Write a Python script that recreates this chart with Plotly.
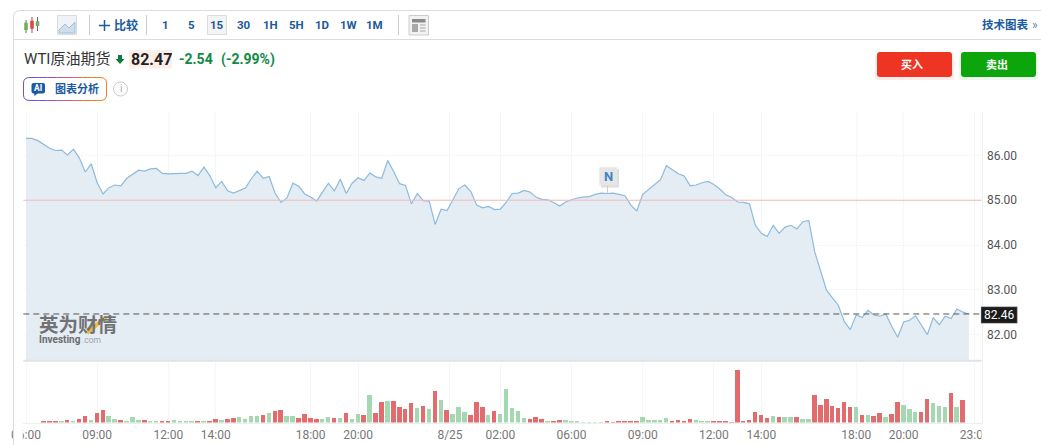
import plotly.graph_objects as go

# Page size and helpers to place the page furniture in pixels
W, H = 1041, 445

prices = [
    86.38, 86.38, 86.33, 86.25, 86.16, 86.11, 86.12, 86.01, 86.14, 85.94,
    85.63, 85.81, 85.39, 85.14, 85.28, 85.34, 85.32, 85.49, 85.59, 85.67,
    85.65, 85.70, 85.71, 85.60, 85.59, 85.60, 85.60, 85.60, 85.65, 85.55,
    85.74, 85.55, 85.28, 85.42, 85.21, 85.16, 85.21, 85.27, 85.48, 85.65,
    85.49, 85.53, 85.16, 84.95, 85.05, 85.38, 85.31, 85.14, 85.07, 84.98,
    85.18, 85.38, 85.21, 85.47, 85.15, 85.38, 85.50, 85.44, 85.61, 85.52,
    85.49, 85.89, 85.64, 85.37, 85.33, 84.92, 85.15, 84.99, 84.98, 84.46,
    84.80, 84.77, 85.01, 85.26, 85.34, 85.20, 84.89, 84.83, 84.86, 84.79,
    84.80, 84.96, 85.15, 85.16, 85.22, 85.18, 85.07, 85.02, 85.01, 84.95,
    84.87, 84.96, 85.01, 85.05, 85.07, 85.08, 85.13, 85.16, 85.15, 85.16,
    85.13, 85.10, 84.89, 84.76, 85.13, 85.24, 85.37, 85.46, 85.77, 85.68,
    85.59, 85.54, 85.32, 85.34, 85.39, 85.42, 85.35, 85.25, 85.12, 85.06,
    84.96, 84.95, 84.92, 84.44, 84.26, 84.19, 84.44, 84.26, 84.40, 84.44,
    84.36, 84.52, 84.55, 83.85, 83.41, 82.99, 82.82, 82.65, 82.29, 82.11,
    82.44, 82.38, 82.54, 82.44, 82.41, 82.46, 82.18, 81.94, 82.28, 82.32,
    82.42, 82.20, 82.00, 82.38, 82.22, 82.41, 82.36, 82.57, 82.50, 82.46,
]

volumes = [
    0, 0, 0, 2, 4, 3, 2, 8, 5, 10,
    18, 8, 28, 38, 18, 10, 8, 5, 15, 8,
    6, 2, 3, 3, 3, 8, 2, 2, 4, 5,
    4, 4, 11, 8, 10, 13, 16, 10, 20, 19,
    22, 27, 33, 38, 19, 19, 13, 24, 13, 10,
    10, 16, 13, 13, 27, 9, 24, 21, 83, 27,
    60, 63, 63, 46, 40, 58, 43, 49, 40, 94,
    68, 38, 26, 46, 32, 21, 60, 46, 21, 35,
    26, 99, 43, 35, 12, 9, 15, 9, 5, 5,
    7, 6, 4, 2, 1, 1, 1, 1, 3, 1,
    5, 4, 4, 5, 15, 7, 7, 7, 12, 5,
    7, 5, 9, 6, 3, 2, 3, 5, 3, 1,
    157, 4, 7, 30, 21, 12, 18, 16, 16, 16,
    16, 10, 10, 81, 52, 69, 49, 43, 60, 46,
    47, 21, 21, 18, 27, 16, 24, 60, 52, 41,
    30, 30, 69, 58, 49, 47, 89, 47, 66, 0,
]
# r = down bar, g = up bar, ten per row
vol_dirs = (
    "gggrrrgrgr"
    "rgrrggrggg"
    "rggrrggggr"
    "grrgrrgggg"
    "rgrrggrrrr"
    "ggrgrggrgr"
    "rgrrrrgrgr"
    "grgggrrrgr"
    "gggggrrrgr"
    "rgggggggrr"
    "rrrrgggggr"
    "rrrgggrrrr"
    "rrrrrrgrgg"
    "rggrrrrrrr"
    "grgrrgrrgg"
    "grrgggrgrr"
)

tick_pos = [0, 12, 24, 32, 48, 56, 71.5, 80, 92, 104, 116, 124, 140, 148, 160]
tick_text = ["06:00", "09:00", "12:00", "14:00", "18:00", "20:00", "8/25", "02:00",
             "06:00", "09:00", "12:00", "14:00", "18:00", "20:00", "23:00"]
price_ticks = [82, 83, 84, 85, 86]
prev_close = 85.0
last_price = 82.46

UI_FONT = "Roboto, 'Noto Sans CJK SC', sans-serif"
BLUE = "#1a5a9e"
GRID = "#f5f6f7"


def fx(x):
    return x / W


def fy(y):
    return 1 - y / H


shapes = []
notes = []


def rect(x0, y0, x1, y1, fill=None, line=None, width=1):
    shapes.append(dict(type="rect", xref="paper", yref="paper", layer="above",
                       x0=fx(x0), x1=fx(x1), y0=fy(y0), y1=fy(y1), fillcolor=fill,
                       line=dict(color=line, width=width if line else 0)))


def round_rect(x0, y0, x1, y1, r, fill):
    p = (f"M {fx(x0 + r)} {fy(y0)} L {fx(x1 - r)} {fy(y0)} Q {fx(x1)} {fy(y0)} {fx(x1)} {fy(y0 + r)} "
         f"L {fx(x1)} {fy(y1 - r)} Q {fx(x1)} {fy(y1)} {fx(x1 - r)} {fy(y1)} "
         f"L {fx(x0 + r)} {fy(y1)} Q {fx(x0)} {fy(y1)} {fx(x0)} {fy(y1 - r)} "
         f"L {fx(x0)} {fy(y0 + r)} Q {fx(x0)} {fy(y0)} {fx(x0 + r)} {fy(y0)} Z")
    shapes.append(dict(type="path", xref="paper", yref="paper", layer="above", path=p,
                       fillcolor=fill, line=dict(width=0)))


def seg(x0, y0, x1, y1, color, width=1, dash=None):
    shapes.append(dict(type="line", xref="paper", yref="paper", layer="above",
                       x0=fx(x0), x1=fx(x1), y0=fy(y0), y1=fy(y1),
                       line=dict(color=color, width=width, dash=dash)))


def label(x, y, text, size=12, color="#333", anchor="center", bold=False, font=UI_FONT, bg=None):
    notes.append(dict(xref="paper", yref="paper", x=fx(x), y=fy(y), text=f"<b>{text}</b>" if bold else text,
                      showarrow=False, xanchor=anchor, yanchor="middle", borderpad=0, bgcolor=bg,
                      font=dict(size=size, color=color, family=font)))


fig = go.Figure()
xs = list(range(len(prices)))

# price area
fig.add_trace(go.Scatter(x=xs, y=prices, mode="lines", fill="tozeroy", fillcolor="#e4ecf4",
                         line=dict(color="#8dbadd", width=1.2), hoverinfo="skip", showlegend=False))
# volume bars
bar_colors = ["#e26b6e" if d == "r" else "#a5d7b1" for d in vol_dirs]
fig.add_trace(go.Bar(x=xs, y=volumes, marker=dict(color=bar_colors, line=dict(width=0)), width=0.76,
                     xaxis="x2", yaxis="y2", hoverinfo="skip", showlegend=False))

# clip the tick labels at the chart edges like the original
rect(14, 424, 22.7, 445, fill="white")
rect(981.5, 424, 1041, 445, fill="white")

# reference lines on the price axis
shapes.append(dict(type="line", xref="x domain", yref="y", x0=0, x1=1, y0=prev_close, y1=prev_close,
                   layer="above", line=dict(color="#f6b9bc", width=1)))
shapes.append(dict(type="line", xref="x domain", yref="y", x0=0, x1=1, y0=last_price, y1=last_price,
                   layer="above", line=dict(color="#555", width=1, dash="6px,4px")))
seg(23.3, 360.7, 981.5, 360.7, "#dfe3e6", 2)

# last price flag
rect(981, 306.7, 1017.3, 323.3, fill="#1b1b1b", line="#bbb", width=0.5)
label(999, 315.2, f"{last_price:.2f}", 12, "white")

# news marker
rect(601, 169, 619, 187.5, fill="rgba(0,0,0,0.13)")
seg(607.5, 185, 607.5, 193, "#ccc")
rect(599.3, 167.3, 617.3, 185.3, fill="#e6e6e6")
label(608, 176.5, "N", 13, "#3d85c6", bold=True)

# watermark
seg(87, 333, 106, 317, "#f3bb3c", 4)
label(38, 323, "英为财情", 19.5, "#707274", "left", True, "'Noto Sans CJK SC'")
label(38, 339.5, "Investing", 10, "#6b6d6f", "left", True)
label(81, 340, ".com", 8.5, "#a0a4a8", "left")

# frame and toolbar
seg(20, 10.5, W, 10.5, "#dcdcdc")
seg(13.5, 39.5, W, 39.5, "#dcdcdc")
seg(13.5, 17, 13.5, H, "#dcdcdc")
shapes.append(dict(type="path", xref="paper", yref="paper", layer="above",
                   path=f"M {fx(13.5)} {fy(17)} Q {fx(13.5)} {fy(10.5)} {fx(20)} {fy(10.5)}",
                   line=dict(color="#dcdcdc", width=1)))

# candle icon
for cx, w0, w1, b0, b1, col in [(26, 20, 33, 22.7, 30, "#6cb25c"), (32, 17, 33, 20.7, 28.7, "#e0483e"),
                                (37.5, 17, 31, 21.3, 26, "#6cb25c")]:
    seg(cx, w0, cx, w1, "#666")
    rect(cx - 1.8, b0, cx + 1.8, b1, fill=col)

# line icon
rect(57.5, 15.5, 76.5, 34.5, fill="#f0f2f5", line="#dcdcdc")
shapes.append(dict(type="path", xref="paper", yref="paper", layer="above", fillcolor="#cfdeed",
                   line=dict(color="#9dbfdc", width=1),
                   path=f"M {fx(59)} {fy(30)} L {fx(65)} {fy(24)} L {fx(69)} {fy(28)} L {fx(75)} {fy(22)} "
                        f"L {fx(75)} {fy(33)} L {fx(59)} {fy(33)} Z"))

seg(89.5, 15, 89.5, 35, "#ccc")
seg(99, 25.5, 110, 25.5, BLUE, 1.5)
seg(104.5, 20, 104.5, 31, BLUE, 1.5)
label(126, 25, "比较", 12, BLUE, bold=True)
seg(146.5, 15, 146.5, 35, "#ccc")
rect(207.5, 15.5, 226.5, 34.5, fill="#f4f4f4", line="#dcdcdc")
for tx, t in [(165, "1"), (191, "5"), (217, "15"), (243.5, "30"), (270, "1H"), (296.5, "5H"),
              (322, "1D"), (348, "1W"), (374.5, "1M")]:
    label(tx, 25.5, t, 11.5, BLUE, bold=True)
seg(398.5, 15, 398.5, 35, "#ccc")

# layout icon
rect(409, 15.5, 428.5, 35, fill="#f2f2f2", line="#ccc")
rect(412, 19, 425.5, 22.5, fill="#8a8a8a")
rect(412, 24, 418, 32, fill="#a8a8a8")
for ly in (25, 28, 31):
    seg(420, ly, 425.5, ly, "#aaa")

label(1005.5, 25, "技术图表", 11.5, BLUE, bold=True)
label(1035, 25, "»", 12, "#5a86b8")

# title row
label(23, 59.5, "WTI原油期货", 15, "#333", "left")
shapes.append(dict(type="path", xref="paper", yref="paper", layer="above", fillcolor="#0e7a3c", line=dict(width=0),
                   path=f"M {fx(118)} {fy(55)} L {fx(122)} {fy(55)} L {fx(122)} {fy(59)} L {fx(124.5)} {fy(59)} "
                        f"L {fx(120)} {fy(64)} L {fx(115.5)} {fy(59)} L {fx(118)} {fy(59)} Z"))
rect(129, 50, 172, 68.5, fill="#fdeee9")
label(129.5, 59.5, "82.47", 16, "#222", "left", True)
label(178, 59.5, "-2.54", 14, "#0e8a45", "left", True)
label(219.5, 59.5, "(-2.99%)", 14, "#0e8a45", "left", True)

# buy and sell buttons
round_rect(875, 55, 954, 80, 3, "rgba(238,53,36,0.10)")
round_rect(959, 55, 1038, 80, 3, "rgba(12,166,12,0.08)")
round_rect(877, 52, 952, 77, 3, "#ee3524")
round_rect(961, 52, 1036, 77, 3, "#0ca60c")
label(912, 65, "买入", 11, "white", bold=True)
label(997, 65, "卖出", 11, "white", bold=True)

# AI button, border fades from purple to orange
border = ["#6b4fe6", "#7d4fd8", "#9a50c0", "#b755a0", "#d05f78", "#e26a50", "#ec7530", "#f08020"]
step = (100 - 30) / len(border)
for k, c in enumerate(border):
    seg(30 + k * step, 77.5, 30 + (k + 1) * step, 77.5, c)
    seg(30 + k * step, 100.5, 30 + (k + 1) * step, 100.5, c)
for path_str, c in [
    (f"M {fx(30)} {fy(77.5)} Q {fx(23.5)} {fy(77.5)} {fx(23.5)} {fy(83)} L {fx(23.5)} {fy(95)} "
     f"Q {fx(23.5)} {fy(100.5)} {fx(30)} {fy(100.5)}", border[0]),
    (f"M {fx(100)} {fy(77.5)} Q {fx(106.5)} {fy(77.5)} {fx(106.5)} {fy(83)} L {fx(106.5)} {fy(95)} "
     f"Q {fx(106.5)} {fy(100.5)} {fx(100)} {fy(100.5)}", border[-1]),
]:
    shapes.append(dict(type="path", xref="paper", yref="paper", layer="above", path=path_str,
                       line=dict(color=c, width=1)))
round_rect(31.5, 83, 45, 93.5, 2, "#1b5aa6")
shapes.append(dict(type="path", xref="paper", yref="paper", layer="above", fillcolor="#1b5aa6", line=dict(width=0),
                   path=f"M {fx(34)} {fy(93)} L {fx(38)} {fy(93)} L {fx(34.5)} {fy(96)} Z"))
label(38.2, 88.3, "AI", 8.5, "white", bold=True)
label(76.5, 89, "图表分析", 11, BLUE, bold=True)
shapes.append(dict(type="circle", xref="paper", yref="paper", layer="above", x0=fx(113.5), x1=fx(127.5),
                   y0=fy(82), y1=fy(96), line=dict(color="#c8c8c8", width=1)))
label(120.5, 89, "i", 10, "#aaa")

fig.update_layout(
    width=W, height=H,
    margin=dict(l=0, r=0, t=0, b=0),
    paper_bgcolor="white", plot_bgcolor="white",
    font=dict(family=UI_FONT),
    bargap=0,
    shapes=shapes, annotations=notes,
    xaxis=dict(domain=[fx(23.3), fx(981.5)], range=[-0.455, 161.13], anchor="y", tickmode="array",
               tickvals=tick_pos, showticklabels=False, ticks="", showgrid=True, gridcolor=GRID,
               zeroline=False, showline=False, automargin=False),
    yaxis=dict(domain=[fy(361), fy(112)], range=[81.41, 86.97], side="right", anchor="x", tickmode="array",
               tickvals=price_ticks, tickformat=".2f", ticks="", showgrid=True, gridcolor=GRID, zeroline=False,
               showline=True, linecolor="#eceeef", ticklabelstandoff=2, automargin=False,
               tickfont=dict(size=12, color="#555", family="Roboto")),
    xaxis2=dict(domain=[fx(23.3), fx(981.5)], range=[-0.455, 161.13], anchor="y2", tickmode="array",
                tickvals=tick_pos, ticktext=tick_text, ticks="", showgrid=True, gridcolor=GRID, zeroline=False,
                showline=True, linecolor="#eceeef", ticklabelstandoff=1, automargin=False,
                tickfont=dict(size=12, color="#777", family="Roboto")),
    yaxis2=dict(domain=[fy(422.5), fy(361)], range=[0, 184], side="right", anchor="x2", showticklabels=False,
                ticks="", showgrid=False, zeroline=False, showline=True, linecolor="#eceeef", automargin=False),
)

fig.write_html("out.html", config=dict(displayModeBar=False),
               post_script="document.body.style.margin='0';document.body.style.overflow='hidden';")
